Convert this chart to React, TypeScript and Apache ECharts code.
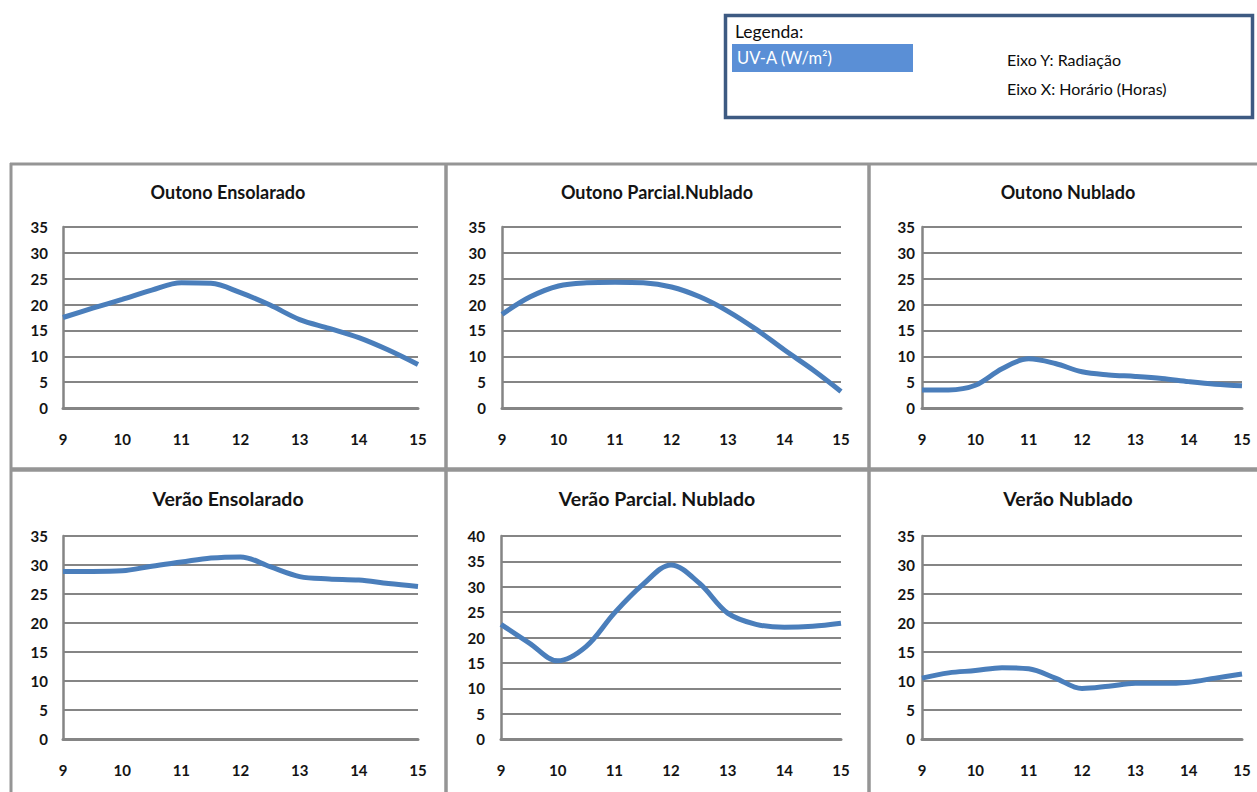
import React, { useEffect, useRef } from "react";
import * as echarts from "echarts";

// Hourly readings (every half hour, 9h to 15h)
const hours = [9, 9.5, 10, 10.5, 11, 11.5, 12, 12.5, 13, 13.5, 14, 14.5, 15];

const outonoEnsolarado = [17.5, 19.3, 21.0, 22.8, 24.2, 24.1, 22.3, 19.9, 17.1, 15.4, 13.6, 11.2, 8.4];
const outonoParcialNublado = [18.1, 21.5, 23.6, 24.2, 24.3, 24.2, 23.4, 21.5, 18.7, 15.2, 11.2, 7.4, 3.2];
const outonoNublado = [3.5, 3.5, 4.4, 7.6, 9.5, 8.6, 7.0, 6.4, 6.1, 5.7, 5.1, 4.6, 4.3];
const veraoEnsolarado = [28.9, 28.9, 29.0, 29.8, 30.5, 31.2, 31.4, 29.7, 28.0, 27.6, 27.4, 26.8, 26.3];
const veraoParcialNublado = [22.6, 18.9, 15.4, 18.2, 24.8, 30.4, 34.3, 30.7, 24.8, 22.6, 22.0, 22.2, 22.8];
const veraoNublado = [10.5, 11.4, 11.8, 12.3, 12.1, 10.5, 8.7, 9.1, 9.6, 9.6, 9.8, 10.5, 11.2];

const titles = [
  "Outono Ensolarado",
  "Outono Parcial.Nublado",
  "Outono Nublado",
  "Verão Ensolarado",
  "Verão Parcial. Nublado",
  "Verão Nublado",
];
const seriesValues = [
  outonoEnsolarado,
  outonoParcialNublado,
  outonoNublado,
  veraoEnsolarado,
  veraoParcialNublado,
  veraoNublado,
];
const yMaxima = [35, 35, 35, 35, 40, 35];
const hourMin = 9;
const hourMax = 15;

// Plot-area placement of each small chart
const panels = [
  { left: 63, top: 227, width: 355, height: 181, titleX: 228, titleY: 192, titleSize: 18, labelGap: 15 },
  { left: 502, top: 227, width: 339, height: 181, titleX: 657, titleY: 192, titleSize: 18, labelGap: 16 },
  { left: 922, top: 227, width: 320, height: 181, titleX: 1068, titleY: 192, titleSize: 18, labelGap: 7 },
  { left: 63, top: 536, width: 355, height: 203, titleX: 228, titleY: 498, titleSize: 19.5, labelGap: 15 },
  { left: 501, top: 536, width: 340, height: 203, titleX: 657, titleY: 498, titleSize: 19.5, labelGap: 16 },
  { left: 922, top: 536, width: 320, height: 203, titleX: 1068, titleY: 498, titleSize: 19.5, labelGap: 7 },
];

const FONT = "Lato, 'Open Sans', sans-serif";
const LINE_BLUE = "#4a7ebb";
const GRID_GREY = "#858585";
const FRAME_GREY = "#959595";

export default function App() {
  const ref = useRef<HTMLDivElement>(null);

  useEffect(() => {
    if (!ref.current) return;
    const chart = echarts.init(ref.current, undefined, { renderer: "svg" });

    const grids = panels.map((p) => ({
      left: p.left,
      top: p.top,
      width: p.width,
      height: p.height,
      containLabel: false,
    }));

    const xAxes = panels.map((_, i) => ({
      type: "value",
      gridIndex: i,
      min: hourMin,
      max: hourMax,
      interval: 1,
      axisLine: { show: true, onZero: false, lineStyle: { color: GRID_GREY, width: 3 } },
      axisTick: { show: false },
      splitLine: { show: false },
      axisLabel: {
        margin: 23,
        fontFamily: FONT,
        fontWeight: "bold",
        fontSize: 15,
        color: "#141414",
      },
    }));

    const yAxes = panels.map((p, i) => ({
      type: "value",
      gridIndex: i,
      min: 0,
      max: yMaxima[i],
      interval: 5,
      axisLine: { show: true, lineStyle: { color: GRID_GREY, width: 2.5 } },
      axisTick: { show: false },
      splitLine: { show: true, lineStyle: { color: GRID_GREY, width: 2.2 } },
      axisLabel: {
        margin: p.labelGap,
        fontFamily: FONT,
        fontWeight: "bold",
        fontSize: 15,
        color: "#141414",
      },
    }));

    const series = seriesValues.map((vals, i) => ({
      type: "line",
      name: titles[i],
      xAxisIndex: i,
      yAxisIndex: i,
      data: hours.map((h, k) => [h, vals[k]]),
      smooth: 0.35,
      showSymbol: false,
      symbol: "none",
      clip: false,
      lineStyle: { color: LINE_BLUE, width: 5 },
      z: 5,
    }));

    const titleTexts = panels.map((p, i) => ({
      type: "text",
      x: p.titleX,
      y: p.titleY,
      style: {
        text: titles[i],
        fontFamily: FONT,
        fontWeight: "bold",
        fontSize: p.titleSize,
        fill: "#141414",
        textAlign: "center",
        textVerticalAlign: "middle",
      },
    }));

    const frame = [
      { shape: { x1: 10, y1: 164, x2: 1257, y2: 164 }, w: 3 },
      { shape: { x1: 11, y1: 163, x2: 11, y2: 792 }, w: 3 },
      { shape: { x1: 446, y1: 163, x2: 446, y2: 792 }, w: 3.5 },
      { shape: { x1: 869, y1: 163, x2: 869, y2: 792 }, w: 3.5 },
      { shape: { x1: 10, y1: 469.5, x2: 1257, y2: 469.5 }, w: 4.5 },
    ].map((l) => ({
      type: "line",
      shape: l.shape,
      style: { stroke: FRAME_GREY, lineWidth: l.w },
      z: 1,
    }));

    const legendBox = [
      {
        type: "rect",
        shape: { x: 725.5, y: 15.5, width: 527, height: 102 },
        style: { fill: "#ffffff", stroke: "#3d5a82", lineWidth: 3.5 },
      },
      {
        type: "text",
        x: 735,
        y: 31,
        style: {
          text: "Legenda:",
          fontFamily: FONT,
          fontSize: 17.5,
          fill: "#0d0d0d",
          textVerticalAlign: "middle",
        },
      },
      {
        type: "rect",
        shape: { x: 732, y: 44, width: 181, height: 28 },
        style: { fill: "#5a8fd6" },
      },
      {
        type: "text",
        x: 737,
        y: 58,
        style: {
          text: "UV-A (W/m²)",
          fontFamily: FONT,
          fontSize: 16.5,
          fill: "#ffffff",
          textVerticalAlign: "middle",
        },
      },
      {
        type: "text",
        x: 1007,
        y: 59,
        style: {
          text: "Eixo Y: Radiação",
          fontFamily: FONT,
          fontSize: 16,
          fill: "#0d0d0d",
          textVerticalAlign: "middle",
        },
      },
      {
        type: "text",
        x: 1007,
        y: 88,
        style: {
          text: "Eixo X: Horário (Horas)",
          fontFamily: FONT,
          fontSize: 16,
          fill: "#0d0d0d",
          textVerticalAlign: "middle",
        },
      },
    ];

    chart.setOption({
      animation: false,
      backgroundColor: "#ffffff",
      grid: grids,
      xAxis: xAxes,
      yAxis: yAxes,
      series,
      graphic: [...frame, ...titleTexts, ...legendBox],
    });

    return () => chart.dispose();
  }, []);

  return (
    <div
      ref={ref}
      style={{ position: "fixed", left: 0, top: 0, width: 1257, height: 792 }}
    />
  );
}
